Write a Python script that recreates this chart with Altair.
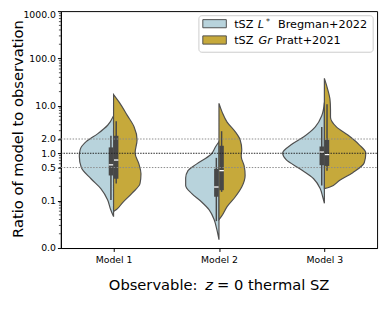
import altair as alt
import pandas as pd

models = ["Model 1", "Model 2", "Model 3"]
series = ["Bregman+2022", "Pratt+2021"]
colors = ["#b8d3dc", "#c6a93b"]

# ---- violin outlines: ratio and half-width (category units) ----
m1_b_ratio = [6.2, 3.9, 2.6, 1.76, 1.21, 0.87, 0.50, 0.29, 0.18, 0.103, 0.065, 0.046]
m1_b_width = [0, 0.056, 0.149, 0.26, 0.316, 0.325, 0.306, 0.214, 0.121, 0.056, 0.028, 0]
m1_y_ratio = [17.3, 11.7, 6.3, 3.6, 1.94, 1.01, 0.59, 0.37, 0.23, 0.144, 0.090, 0.065, 0.059]
m1_y_width = [0, 0.056, 0.13, 0.195, 0.223, 0.204, 0.241, 0.26, 0.251, 0.176, 0.084, 0.028, 0]

m2_b_ratio = [1.76, 1.39, 0.94, 0.59, 0.43, 0.30, 0.21, 0.142, 0.095, 0.064, 0.040, 0.025, 0.015]
m2_b_width = [0, 0.031, 0.077, 0.214, 0.294, 0.316, 0.316, 0.26, 0.167, 0.093, 0.046, 0.021, 0]
m2_y_ratio = [11.3, 7.3, 4.54, 2.83, 1.91, 1.19, 0.87, 0.54, 0.34, 0.194, 0.121, 0.075, 0.047, 0.040]
m2_y_width = [0, 0.031, 0.077, 0.155, 0.201, 0.216, 0.211, 0.239, 0.248, 0.216, 0.155, 0.077, 0.025, 0]

m3_b_ratio = [11.7, 6.2, 3.6, 2.23, 1.51, 1.01, 0.74, 0.46, 0.29, 0.18, 0.121, 0.088]
m3_b_width = [0, 0.025, 0.086, 0.195, 0.316, 0.396, 0.365, 0.226, 0.102, 0.04, 0.016, 0]
m3_y_ratio = [38.1, 23.8, 13.7, 8.5, 5.75, 3.6, 2.42, 1.51, 1.01, 0.63, 0.39, 0.27, 0.194, 0.18]
m3_y_width = [0, 0.028, 0.053, 0.058, 0.058, 0.114, 0.223, 0.331, 0.393, 0.378, 0.269, 0.146, 0.053, 0]

# ---- inner box statistics: whisker low, Q1, median, Q3, whisker high ----
box_model = [0, 0, 1, 1, 2, 2]
box_series = [0, 1, 0, 1, 0, 1]
box_lo = [0.103, 0.23, 0.037, 0.153, 0.21, 0.43]
box_q1 = [0.34, 0.29, 0.121, 0.166, 0.56, 0.54]
box_med = [0.57, 0.72, 0.194, 0.43, 1.06, 0.94]
box_q3 = [1.33, 2.34, 0.47, 1.44, 1.39, 1.91]
box_hi = [2.34, 4.76, 0.80, 2.92, 3.6, 10.8]

ref_dotted = [0.5, 2.0]
ref_unity = [1.0]
y_ticks = [0.01, 0.1, 0.5, 1, 2, 10, 100, 1000]

# ---- build tables ----
rows = []
halves = [
    (0, 0, m1_b_ratio, m1_b_width), (0, 1, m1_y_ratio, m1_y_width),
    (1, 0, m2_b_ratio, m2_b_width), (1, 1, m2_y_ratio, m2_y_width),
    (2, 0, m3_b_ratio, m3_b_width), (2, 1, m3_y_ratio, m3_y_width),
]
for mi, si, rat, wid in halves:
    side = -1 if si == 0 else 1
    for r, w in zip(rat, wid):
        rows.append({"model": models[mi], "series": series[si], "ratio": r,
                     "x": mi + side * w, "x2": mi})
vdf = pd.DataFrame(rows)

brows = []
for mi, si, lo, q1, md, q3, hi in zip(box_model, box_series, box_lo, box_q1, box_med, box_q3, box_hi):
    side = -1 if si == 0 else 1
    a, b = mi + side * 0.004, mi + side * 0.046
    brows.append({"bx1": min(a, b), "bx2": max(a, b), "wx": mi + side * 0.025,
                  "lo": lo, "q1": q1, "med": md, "q3": q3, "hi": hi})
bdf = pd.DataFrame(brows)

minor = [m * 10.0 ** k for k in range(-2, 3) for m in range(2, 10)]

W, H = 323, 242
xscale = alt.Scale(domain=[-0.5, 2.5], nice=False, zero=False)
yscale = alt.Scale(type="log", domain=[0.01, 1000], nice=False)

label_expr = "[" + ",".join("'%s'" % m for m in models) + "][round(datum.value)]"

xaxis = alt.Axis(values=[0, 1, 2], labelExpr=label_expr, title=None, grid=False,
                 tickSize=3.5, labelFontSize=9.5, labelPadding=3, labelColor="black",
                 tickColor="black", domainColor="black", labelFont="DejaVu Sans")
yaxis = alt.Axis(values=y_ticks, format=".1f", grid=False, tickSize=3.5,
                 labelFontSize=9.5, labelPadding=2, labelColor="black",
                 labelOffset={"condition": {"test": "datum.value >= 1000", "value": 4}, "value": 0},
                 tickColor="black", domainColor="black", labelFont="DejaVu Sans",
                 title="Ratio of model to observation", titleFont="DejaVu Sans",
                 titleFontSize=15, titleFontWeight="normal", titleColor="black",
                 titleX=-44, titleY=120, titleAngle=270, titleAlign="center",
                 titleBaseline="middle")


def X(f):
    return alt.X(f, type="quantitative", scale=xscale, axis=xaxis)


def Y(f):
    return alt.Y(f, type="quantitative", scale=yscale, axis=yaxis)


violin = alt.Chart(vdf).mark_area(
    orient="horizontal", interpolate="monotone", stroke="#4f4f4f",
    strokeWidth=1.2, fillOpacity=1
).encode(
    y=Y("ratio"), x=X("x"), x2="x2:Q",
    color=alt.Color("series:N", scale=alt.Scale(domain=series, range=colors), legend=None),
    detail="model:N",
)

box = alt.Chart(bdf).mark_rect(color="#474747").encode(
    x=X("bx1"), x2="bx2:Q", y=Y("q1"), y2="q3:Q")
whisk = alt.Chart(bdf).mark_rule(color="#474747", strokeWidth=1.5).encode(
    x=X("wx"), y=Y("lo"), y2="hi:Q")
med = alt.Chart(bdf).mark_rule(color="white", strokeWidth=1.3).encode(
    x=X("bx1"), x2="bx2:Q", y=Y("med"))

hl_gray = alt.Chart(pd.DataFrame({"v": ref_dotted})).mark_rule(
    color="#8a8a8a", strokeWidth=1, strokeDash=[1.5, 1.5]).encode(
    y=Y("v"), x=alt.value(0), x2=alt.value(W))
hl_black = alt.Chart(pd.DataFrame({"v": ref_unity})).mark_rule(
    color="#222222", strokeWidth=1, strokeDash=[1.5, 1.2]).encode(
    y=Y("v"), x=alt.value(0), x2=alt.value(W))

minor_ticks = alt.Chart(pd.DataFrame({"v": minor})).mark_rule(
    color="black", strokeWidth=0.7).encode(
    y=Y("v"), x=alt.value(-2), x2=alt.value(0))

one = pd.DataFrame({"a": [0]})


def txt(s, x, y, size, style="normal", align="left"):
    return alt.Chart(one).mark_text(
        text=s, font="DejaVu Sans", fontSize=size, fontStyle=style, align=align,
        baseline="middle", color="black").encode(x=alt.value(x), y=alt.value(y))


legend_box = alt.Chart(one).mark_rect(
    fill="white", fillOpacity=0.8, stroke="#cccccc", strokeWidth=1, cornerRadius=3
).encode(x=alt.value(141), x2=alt.value(319), y=alt.value(4.7), y2=alt.value(42))
patch1 = alt.Chart(one).mark_rect(fill=colors[0], stroke="#4f4f4f", strokeWidth=1).encode(
    x=alt.value(145), x2=alt.value(169), y=alt.value(8.7), y2=alt.value(17))
patch2 = alt.Chart(one).mark_rect(fill=colors[1], stroke="#4f4f4f", strokeWidth=1).encode(
    x=alt.value(145), x2=alt.value(169), y=alt.value(25.3), y2=alt.value(33.7))

LF = 11.5
legend_layers = [
    legend_box, patch1, patch2,
    txt("tSZ", 177, 14.5, LF), txt("L", 201, 14.5, LF, "italic"),
    txt("*", 209.5, 11, 8), txt(series[0], 221.7, 14.5, LF),
    txt("tSZ", 177, 31, LF), txt("Gr", 202, 31, LF, "italic"),
    txt(series[1], 219.5, 31, LF),
]

xt_y = 280
xtitle = [
    txt("Observable:", 49, xt_y, 15),
    txt("z", 147.5, xt_y, 15, "italic"),
    txt("= 0 thermal SZ", 159.6, xt_y, 15),
]

chart = alt.layer(
    violin, whisk, box, med, hl_gray, hl_black, minor_ticks, *legend_layers, *xtitle
).properties(
    width=W, height=H,
    autosize=alt.AutoSizeParams(type="none"),
    padding={"left": 54, "top": 0, "right": 4, "bottom": 55},
).configure_view(stroke="black", strokeWidth=1)

chart.save("out.html", embed_options={"renderer": "svg", "actions": False})
